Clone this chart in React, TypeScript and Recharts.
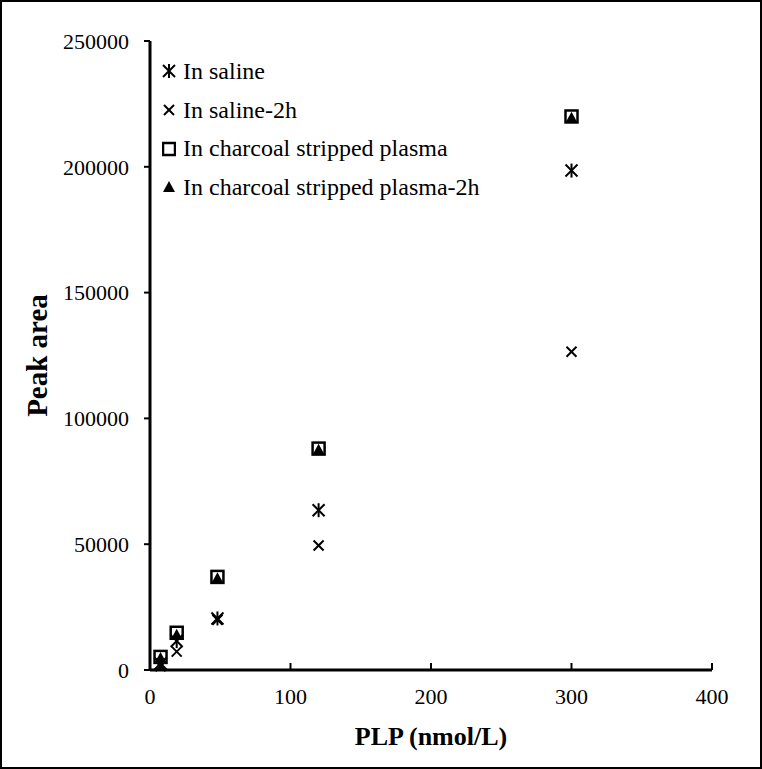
import { ScatterChart, Scatter, XAxis, YAxis } from 'recharts';

const concentrations = [7.5, 19, 48, 120, 300];
const saline = [2600, 11500, 20500, 63500, 198500];
const saline2h = [1500, 7300, 20000, 49500, 126500];
const charcoal = [5200, 14800, 37000, 88000, 220000];
const charcoal2h = [4800, 14000, 36500, 87500, 219500];

const xTicks = [0, 100, 200, 300, 400];
const yTicks = [0, 50000, 100000, 150000, 200000, 250000];

const FONT = '"Liberation Serif", "Times New Roman", serif';

const toPoints = (values: number[]) => concentrations.map((x, i) => ({ x, y: values[i] }));

// marker shapes
const Asterisk = ({ cx, cy }: any) => (
    <g stroke="#000" strokeWidth={2}>
        <line x1={cx - 6} y1={cy - 6} x2={cx + 6} y2={cy + 6} />
        <line x1={cx + 6} y1={cy - 6} x2={cx - 6} y2={cy + 6} />
        <line x1={cx} y1={cy - 7} x2={cx} y2={cy + 7} />
    </g>
);

const Cross = ({ cx, cy }: any) => (
    <g stroke="#000" strokeWidth={2}>
        <line x1={cx - 5} y1={cy - 5} x2={cx + 5} y2={cy + 5} />
        <line x1={cx + 5} y1={cy - 5} x2={cx - 5} y2={cy + 5} />
    </g>
);

const Square = ({ cx, cy }: any) => (
    <rect x={cx - 6} y={cy - 6} width={12} height={12} fill="none" stroke="#000" strokeWidth={2.5} />
);

const Triangle = ({ cx, cy }: any) => (
    <polygon points={`${cx},${cy - 6} ${cx + 6},${cy + 5} ${cx - 6},${cy + 5}`} fill="#000" />
);

const series = [
    { name: 'In saline', values: saline, Shape: Asterisk },
    { name: 'In saline-2h', values: saline2h, Shape: Cross },
    { name: 'In charcoal stripped plasma', values: charcoal, Shape: Square },
    { name: 'In charcoal stripped plasma-2h', values: charcoal2h, Shape: Triangle },
];

const ChartLegend = () => (
    <div style={{ position: 'absolute', left: 162, top: 52, fontFamily: FONT, fontSize: 24, color: '#000', whiteSpace: 'nowrap' }}>
        {series.map(({ name, Shape }) => (
            <div key={name} style={{ height: 38.7, display: 'flex', alignItems: 'center' }}>
                <svg width={14} height={16} style={{ marginRight: 7 }}>
                    <Shape cx={7} cy={8} />
                </svg>
                <span>{name}</span>
            </div>
        ))}
    </div>
);

const App = () => {
    return (
        <div style={{ position: 'absolute', left: 0, top: 0, width: 762, height: 769, background: '#fff' }}>
            <ScatterChart width={762} height={769} margin={{ top: 41, right: 50, bottom: 0, left: 0 }}>
                <XAxis
                    type="number"
                    dataKey="x"
                    domain={[0, 400]}
                    ticks={xTicks}
                    height={99}
                    axisLine={{ stroke: '#000', strokeWidth: 3 }}
                    tickLine={{ stroke: '#000', strokeWidth: 2 }}
                    tickSize={-7}
                    tickMargin={25}
                    tick={{ fill: '#000', fontSize: 22, fontFamily: FONT }}
                    label={{
                        value: 'PLP (nmol/L)',
                        position: 'insideBottom',
                        offset: 24,
                        style: { fill: '#000', fontSize: 26, fontWeight: 'bold', fontFamily: FONT },
                    }}
                />
                <YAxis
                    type="number"
                    dataKey="y"
                    domain={[0, 250000]}
                    ticks={yTicks}
                    width={150}
                    axisLine={{ stroke: '#000', strokeWidth: 3 }}
                    tickLine={{ stroke: '#000', strokeWidth: 2 }}
                    tickSize={6}
                    tickMargin={15}
                    tick={{ fill: '#000', fontSize: 22, fontFamily: FONT }}
                    label={{
                        value: 'Peak area',
                        angle: -90,
                        position: 'insideLeft',
                        offset: 37,
                        style: { textAnchor: 'middle', fill: '#000', fontSize: 29, fontWeight: 'bold', fontFamily: FONT },
                    }}
                />
                {series.map(({ name, values, Shape }) => (
                    <Scatter key={name} name={name} data={toPoints(values)} shape={(p: any) => <Shape {...p} />} isAnimationActive={false} />
                ))}
            </ScatterChart>
            <ChartLegend />
            <div style={{ position: 'absolute', inset: 0, border: '2px solid #000', pointerEvents: 'none' }} />
        </div>
    );
};

export default App;
